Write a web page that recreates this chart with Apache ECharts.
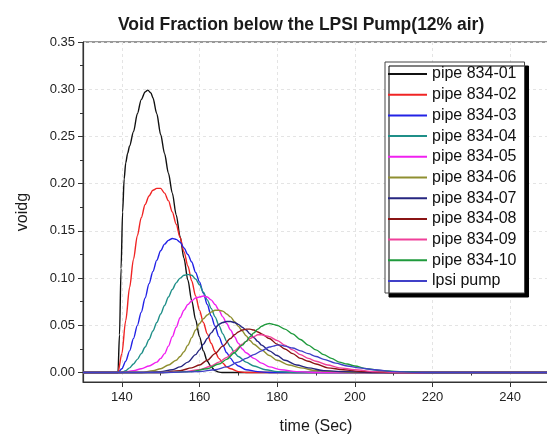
<!DOCTYPE html>
<html>
<head>
<meta charset="utf-8">
<script src="https://cdn.jsdelivr.net/npm/echarts@6/dist/echarts.min.js"></script>
<style>
  html, body { margin: 0; padding: 0; background: #fff; }
  #chart { width: 547px; height: 437px; }
</style>
</head>
<body>
<div id="chart"></div>
<script>
// time (s), voidg pairs
const pipe01 = [[130,0],[139,0],[139.4,0.04],[139.8,0.11],[140.2,0.17],[140.6,0.205],[141,0.222],[141.5,0.232],[142,0.24],[143,0.255],[144,0.274],[145,0.289],[146,0.297],[146.7,0.299],[147.5,0.296],[148,0.291],[149,0.274],[150,0.252],[151,0.232],[152,0.211],[153,0.19],[154,0.167],[155,0.144],[156,0.121],[157,0.098],[158,0.076],[159,0.056],[160,0.038],[161,0.023],[162,0.012],[163,0.006],[164,0.002],[165,0.0005],[166,0],[250,0]]
const pipe02 = [[130,0],[139,0],[140,0.02],[141,0.055],[142,0.09],[143,0.12],[144,0.145],[145,0.164],[146,0.178],[147,0.187],[148,0.193],[149,0.195],[150,0.195],[151,0.19],[152,0.182],[153,0.17],[154,0.157],[155,0.143],[156,0.128],[157,0.113],[158,0.097],[159,0.081],[160,0.066],[161,0.053],[162,0.041],[163,0.031],[164,0.022],[165,0.015],[166,0.01],[167,0.006],[168,0.004],[170,0.001],[172,0],[250,0]]
const pipe03 = [[130,0],[139,0],[140,0.004],[141,0.012],[142,0.023],[143,0.036],[144,0.05],[145,0.064],[146,0.079],[147,0.094],[148,0.107],[149,0.119],[150,0.129],[151,0.136],[152,0.14],[153,0.142],[154,0.141],[155,0.138],[156,0.132],[157,0.125],[158,0.117],[159,0.106],[160,0.096],[161,0.084],[162,0.072],[163,0.06],[164,0.049],[165,0.038],[166,0.029],[167,0.021],[168,0.015],[169,0.01],[170,0.007],[172,0.003],[175,0.001],[178,0],[250,0]]
const pipe04 = [[130,0],[140,0],[141,0.002],[142,0.005],[143,0.009],[144,0.014],[145,0.02],[146,0.027],[147,0.035],[148,0.044],[149,0.053],[150,0.062],[151,0.071],[152,0.08],[153,0.088],[154,0.095],[155,0.1],[156,0.103],[157,0.104],[158,0.103],[159,0.099],[160,0.093],[161,0.085],[162,0.077],[163,0.068],[164,0.059],[165,0.05],[166,0.041],[167,0.033],[168,0.027],[169,0.021],[170,0.017],[172,0.011],[174,0.007],[177,0.003],[180,0.001],[185,0],[250,0]]
const pipe05 = [[130,0],[140,0],[143,0.002],[145,0.004],[147,0.007],[149,0.011],[150,0.015],[151,0.02],[152,0.028],[153,0.038],[154,0.048],[155,0.058],[156,0.066],[157,0.072],[158,0.076],[159,0.079],[160,0.08],[161,0.081],[162,0.08],[163,0.077],[164,0.072],[165,0.066],[166,0.059],[167,0.052],[168,0.045],[169,0.038],[170,0.031],[171,0.025],[172,0.021],[174,0.015],[176,0.01],[178,0.006],[181,0.003],[185,0.001],[190,0],[250,0]]
const pipe06 = [[130,0],[145,0],[148,0.002],[150,0.004],[152,0.008],[154,0.013],[155,0.017],[156,0.022],[157,0.029],[158,0.037],[159,0.045],[160,0.052],[161,0.057],[162,0.061],[163,0.064],[164,0.066],[165,0.066],[166,0.065],[167,0.062],[168,0.059],[169,0.054],[170,0.049],[171,0.044],[172,0.039],[173,0.034],[174,0.03],[176,0.024],[178,0.018],[180,0.013],[183,0.008],[186,0.005],[190,0.002],[195,0.001],[200,0],[250,0]]
const pipe07 = [[130,0],[145,0],[150,0.001],[153,0.003],[155,0.006],[157,0.011],[159,0.019],[160,0.024],[161,0.03],[162,0.036],[163,0.042],[164,0.047],[165,0.051],[166,0.053],[167,0.054],[168,0.054],[169,0.053],[170,0.051],[171,0.048],[172,0.045],[173,0.041],[174,0.037],[175,0.033],[176,0.029],[178,0.023],[180,0.018],[182,0.013],[185,0.008],[188,0.005],[192,0.002],[197,0.001],[205,0],[250,0]]
const pipe08 = [[130,0],[150,0],[155,0.002],[158,0.005],[160,0.008],[162,0.013],[164,0.02],[166,0.028],[168,0.036],[169,0.04],[170,0.043],[171,0.045],[172,0.046],[173,0.046],[174,0.045],[175,0.043],[176,0.041],[178,0.036],[180,0.03],[182,0.025],[184,0.02],[186,0.015],[188,0.012],[190,0.009],[193,0.005],[197,0.003],[202,0.001],[210,0],[250,0]]
const pipe09 = [[130,0],[150,0],[156,0.001],[160,0.003],[163,0.007],[165,0.011],[167,0.016],[169,0.023],[171,0.03],[172,0.033],[173,0.036],[174,0.038],[175,0.04],[176,0.04],[177,0.039],[178,0.038],[180,0.034],[182,0.029],[184,0.024],[186,0.019],[188,0.015],[190,0.012],[193,0.008],[196,0.005],[200,0.003],[205,0.001],[212,0],[250,0]]
const pipe10 = [[130,0],[150,0],[158,0.001],[162,0.004],[165,0.009],[167,0.014],[169,0.021],[171,0.029],[172,0.033],[173,0.038],[174,0.042],[175,0.046],[176,0.049],[177,0.051],[178,0.052],[179,0.051],[180,0.05],[182,0.046],[184,0.041],[186,0.035],[188,0.029],[190,0.024],[192,0.019],[194,0.015],[196,0.011],[198,0.009],[200,0.007],[203,0.004],[207,0.002],[212,0.001],[220,0],[250,0]]
const lpsiPump = [[130,0],[150,0],[160,0.001],[164,0.003],[167,0.006],[170,0.011],[172,0.015],[174,0.019],[176,0.023],[178,0.027],[179,0.028],[180,0.029],[181,0.029],[182,0.028],[184,0.026],[186,0.023],[188,0.02],[190,0.017],[192,0.014],[195,0.01],[198,0.007],[201,0.005],[205,0.003],[210,0.001],[218,0],[250,0]]

const seriesNames = ['pipe 834-01', 'pipe 834-02', 'pipe 834-03', 'pipe 834-04', 'pipe 834-05', 'pipe 834-06', 'pipe 834-07', 'pipe 834-08', 'pipe 834-09', 'pipe 834-10', 'lpsi pump']
const seriesData = [pipe01, pipe02, pipe03, pipe04, pipe05, pipe06, pipe07, pipe08, pipe09, pipe10, lpsiPump]
const colors = ['#111111', '#f02424', '#2222e6', '#1f8f88', '#f020f0', '#8f8f30', '#262680', '#8a1414', '#f0409a', '#1f9a3c', '#4040c8']

const xMajor = [140, 160, 180, 200, 220, 240]
const xMinor = [150, 170, 190, 210, 230]
const yMajor = [0, 0.05, 0.1, 0.15, 0.2, 0.25, 0.3, 0.35]
const yMinor = [0.025, 0.075, 0.125, 0.175, 0.225, 0.275, 0.325]

const font = 'Liberation Sans, Arial, sans-serif'
const axisColor = '#333'
const gridColor = '#e4e4e4'

const chart = echarts.init(document.getElementById('chart'))

chart.setOption({
  backgroundColor: '#fff',
  animation: false,
  title: {
    text: 'Void Fraction below the LPSI Pump(12% air)',
    left: 113,
    top: 11,
    textStyle: { fontFamily: font, fontSize: 17.5, fontWeight: 'bold', color: '#1a1a1a' }
  },
  legend: {
    orient: 'vertical',
    left: 385,
    top: 62,
    padding: [4, 8, 4, 3],
    itemGap: 4.7,
    itemWidth: 39,
    itemHeight: 2,
    icon: 'rect',
    backgroundColor: '#fff',
    borderColor: '#444',
    borderWidth: 1,
    borderRadius: 0,
    shadowColor: '#000',
    shadowBlur: 0,
    shadowOffsetX: 4,
    shadowOffsetY: 4,
    textStyle: { fontFamily: font, fontSize: 16, color: '#111' },
    data: seriesNames
  },
  grid: {
    left: 83,
    right: -2,
    top: 42,
    bottom: 55,
    outerBoundsMode: 'none',
    show: true,
    borderColor: axisColor,
    borderWidth: 1
  },
  xAxis: [{
    type: 'value',
    min: 130,
    max: 250,
    name: 'time (Sec)',
    nameLocation: 'middle',
    nameGap: 37,
    nameTextStyle: { fontFamily: font, fontSize: 16, color: '#1a1a1a' },
    axisLine: { onZero: false, lineStyle: { color: axisColor, width: 1.2 } },
    axisTick: { customValues: xMajor, length: 5, lineStyle: { color: axisColor } },
    axisLabel: { customValues: xMajor, fontFamily: font, fontSize: 13, color: '#222', margin: 9 },
    splitLine: { show: true, lineStyle: { color: gridColor, type: [3, 3] } }
  }, {
    type: 'value',
    min: 130,
    max: 250,
    position: 'bottom',
    axisLine: { show: false },
    axisTick: { customValues: xMinor, length: 3, lineStyle: { color: axisColor } },
    axisLabel: { show: false },
    splitLine: { show: false }
  }],
  yAxis: [{
    type: 'value',
    min: -0.01,
    max: 0.35,
    name: 'voidg',
    nameLocation: 'middle',
    nameGap: 52,
    nameTextStyle: { fontFamily: font, fontSize: 16, color: '#1a1a1a' },
    axisLine: { show: true, lineStyle: { color: axisColor, width: 1.2 } },
    axisTick: { show: true, customValues: yMajor, length: 5, lineStyle: { color: axisColor } },
    axisLabel: {
      customValues: yMajor,
      fontFamily: font,
      fontSize: 13,
      color: '#222',
      margin: 8,
      formatter: v => v.toFixed(2)
    },
    splitLine: { show: true, lineStyle: { color: gridColor, type: [3, 3] } }
  }, {
    type: 'value',
    min: -0.01,
    max: 0.35,
    position: 'left',
    axisLine: { show: false },
    axisTick: { show: true, customValues: yMinor, length: 3, lineStyle: { color: axisColor } },
    axisLabel: { show: false },
    splitLine: { show: false }
  }],
  series: seriesData.map((d, i) => ({
    name: seriesNames[i],
    type: 'line',
    data: d,
    xAxisIndex: 0,
    yAxisIndex: 0,
    symbol: 'none',
    smooth: 0.3,
    smoothMonotone: 'x',
    clip: true,
    color: colors[i],
    lineStyle: { width: 1.4, color: colors[i] }
  }))
})
</script>
</body>
</html>
